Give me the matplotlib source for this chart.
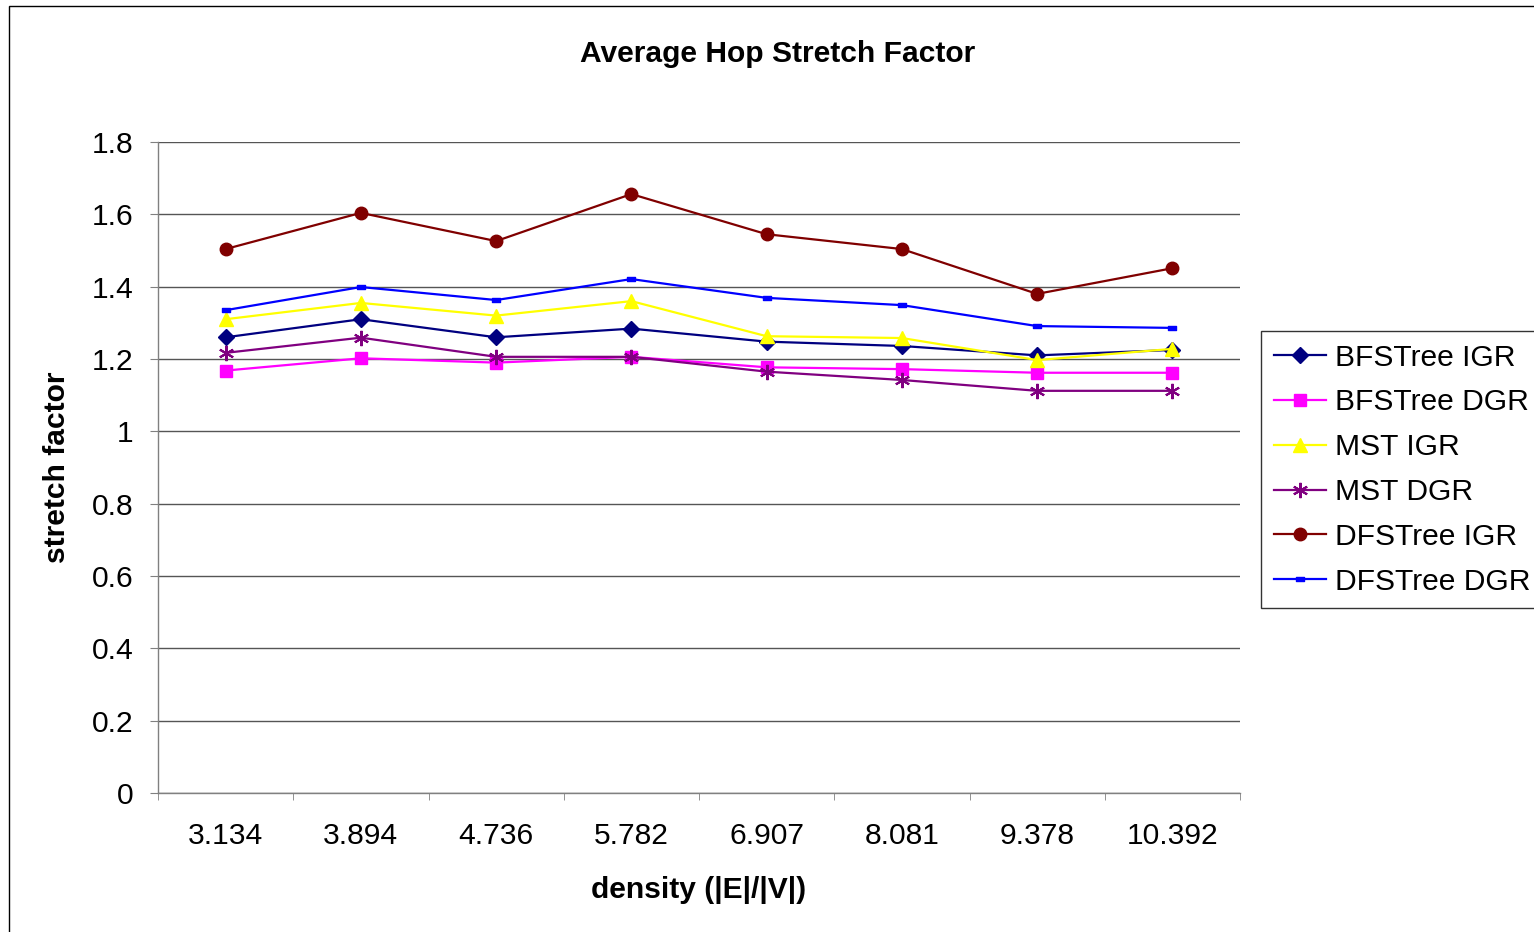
import matplotlib
matplotlib.use("Agg")
import matplotlib.pyplot as plt
from matplotlib.patches import Rectangle
from matplotlib.path import Path

# data
densities = ["3.134", "3.894", "4.736", "5.782", "6.907", "8.081", "9.378", "10.392"]
bfs_igr = [1.26, 1.31, 1.26, 1.284, 1.248, 1.236, 1.21, 1.225]
bfs_dgr = [1.168, 1.202, 1.19, 1.206, 1.177, 1.172, 1.162, 1.162]
mst_igr = [1.31, 1.355, 1.32, 1.36, 1.263, 1.258, 1.197, 1.228]
mst_dgr = [1.217, 1.259, 1.206, 1.206, 1.165, 1.142, 1.112, 1.112]
dfs_igr = [1.504, 1.604, 1.526, 1.656, 1.545, 1.504, 1.38, 1.451]
dfs_dgr = [1.335, 1.399, 1.363, 1.421, 1.369, 1.349, 1.291, 1.286]
y_ticks = [0, 0.2, 0.4, 0.6, 0.8, 1, 1.2, 1.4, 1.6, 1.8]
y_tick_labels = ["0", "0.2", "0.4", "0.6", "0.8", "1", "1.2", "1.4", "1.6", "1.8"]

plt.rcParams["font.family"] = ["Liberation Sans", "DejaVu Sans"]
FS = 21.6

dash = Path([(-1, -0.45), (1, -0.45), (1, 0.45), (-1, 0.45), (-1, -0.45)],
            [Path.MOVETO, Path.LINETO, Path.LINETO, Path.LINETO, Path.CLOSEPOLY])

series = [
    ("BFSTree IGR", bfs_igr, "#000080", "D", 8),
    ("BFSTree DGR", bfs_dgr, "#FF00FF", "s", 8),
    ("MST IGR", mst_igr, "#FFFF00", "^", 10),
    ("MST DGR", mst_dgr, "#800080", (6, 2, 0), 11),
    ("DFSTree IGR", dfs_igr, "#800000", "o", 9),
    ("DFSTree DGR", dfs_dgr, "#0000FF", dash, 6),
]

fig = plt.figure(figsize=(15.34, 9.32), dpi=100)
ax = fig.add_axes([158 / 1534, 1 - 793 / 932, 1082 / 1534, 651 / 932])

x = list(range(len(densities)))
handles = []
for name, vals, color, marker, ms in series:
    mew = 1.5 if marker == (6, 2, 0) else 1
    h, = ax.plot(x, vals, color=color, lw=1.6, marker=marker, markersize=ms,
                 markerfacecolor=color, markeredgecolor=color, markeredgewidth=mew,
                 label=name, zorder=3)
    handles.append(h)

ax.set_xlim(-0.5, len(densities) - 0.5)
ax.set_ylim(0, 1.8)
ax.set_yticks(y_ticks)
ax.set_yticklabels(y_tick_labels)
ax.set_xticks(x)
ax.set_xticklabels(densities)
ax.set_xticks([i - 0.5 for i in range(len(densities) + 1)], minor=True)
ax.tick_params(axis="x", which="major", length=0, pad=21, labelsize=FS)
ax.tick_params(axis="x", which="minor", length=5, color="#808080", direction="out")
ax.tick_params(axis="y", length=5.5, color="#808080", pad=12, labelsize=FS)

ax.grid(axis="y", color="#555555", lw=1)
ax.set_axisbelow(True)
for s in ["top", "right"]:
    ax.spines[s].set_visible(False)
for s in ["left", "bottom"]:
    ax.spines[s].set_color("#808080")
    ax.spines[s].set_linewidth(1)

ax.set_xlabel("density (|E|/|V|)", fontsize=FS, fontweight="bold")
ax.set_ylabel("stretch factor", fontsize=FS, fontweight="bold")
ax.xaxis.set_label_coords(0.5, -0.128)
ax.yaxis.set_label_coords(-0.08, 0.5)

fig.text(778 / 1534, 1 - 54 / 932, "Average Hop Stretch Factor", fontsize=FS,
         fontweight="bold", ha="center", va="center")

leg = fig.legend(handles=handles, loc="upper left", bbox_to_anchor=(1261 / 1534, 1 - 331 / 932),
                 bbox_transform=fig.transFigure, fontsize=FS, frameon=True, fancybox=False,
                 edgecolor="black", borderaxespad=0, borderpad=0.42, labelspacing=0.56,
                 handlelength=1.75, handletextpad=0.3)
leg.get_frame().set_linewidth(1)

fig.patches.append(Rectangle((9 / 1534, -0.1), 1.2, 1 - 6 / 932 + 0.1, transform=fig.transFigure,
                             fill=False, edgecolor="black", lw=1))

fig.savefig("out.png", dpi=100)
